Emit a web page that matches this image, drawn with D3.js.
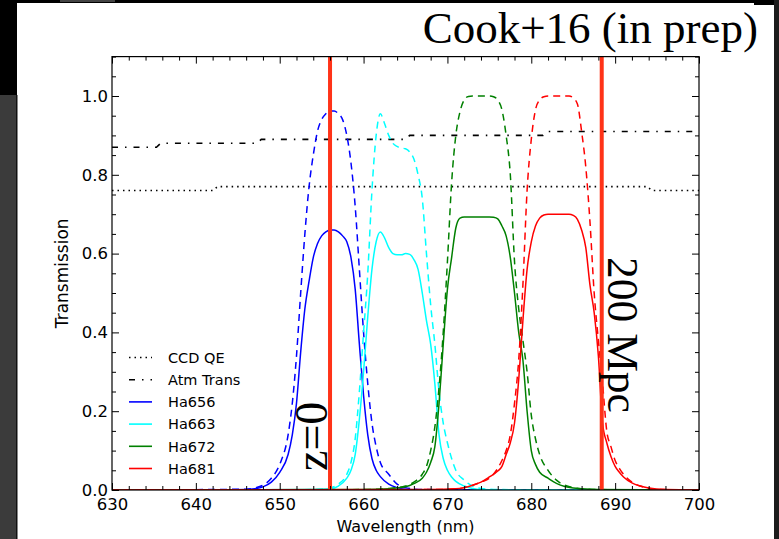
<!DOCTYPE html>
<html>
<head>
<meta charset="utf-8">
<script src="https://cdn.jsdelivr.net/npm/d3@7/dist/d3.min.js"></script>
<style>
  html, body { margin: 0; padding: 0; background: #ffffff; }
  svg { display: block; }
  text { font-family: "DejaVu Sans", sans-serif; fill: #000; }
</style>
</head>
<body>
<svg id="chart" width="779" height="539"></svg>
<script>
// ---------------- DATA ----------------
const xTicks = [630, 640, 650, 660, 670, 680, 690, 700];
const yTicks = [0.0, 0.2, 0.4, 0.6, 0.8, 1.0];

// CCD quantum efficiency (dotted)
const qeWave = [630, 642.0, 642.6, 693.8, 694.4, 700];
const qeVal  = [0.76, 0.76, 0.77, 0.77, 0.76, 0.76];

// Atmospheric transmission (dash-dot)
const atmWave = [630, 635.3, 635.8, 647.3, 647.8, 665.0, 665.5, 681.4, 681.9, 700];
const atmVal  = [0.87, 0.87, 0.88, 0.88, 0.89, 0.89, 0.90, 0.90, 0.91, 0.91];

// Ha656
const ha656Wave = [630, 646, 647, 648, 649, 650, 651, 651.5, 652, 652.5, 653, 653.5, 654, 654.5, 655, 655.5, 656, 656.5, 657, 657.5, 658, 658.5, 659, 659.5, 660, 660.5, 661, 661.5, 662, 663, 664, 665, 667, 700];
const ha656Filter = [0, 0.002, 0.005, 0.012, 0.03, 0.065, 0.14, 0.22, 0.34, 0.50, 0.65, 0.77, 0.85, 0.91, 0.94, 0.955, 0.962, 0.962, 0.955, 0.94, 0.90, 0.83, 0.72, 0.56, 0.40, 0.27, 0.17, 0.11, 0.07, 0.04, 0.015, 0.006, 0.001, 0];
const ha656Total  = [0, 0.001, 0.003, 0.008, 0.02, 0.045, 0.09, 0.14, 0.22, 0.35, 0.46, 0.53, 0.59, 0.625, 0.645, 0.655, 0.66, 0.66, 0.655, 0.645, 0.63, 0.59, 0.51, 0.37, 0.24, 0.14, 0.08, 0.05, 0.034, 0.015, 0.006, 0.002, 0, 0];

// Ha663
const ha663Wave = [630, 654, 656, 657, 658, 658.5, 659, 659.5, 660, 660.5, 661, 661.5, 662, 662.5, 663, 663.5, 664, 664.5, 665, 665.5, 666, 666.5, 667, 667.5, 668, 668.5, 669, 669.5, 670, 670.5, 671, 672, 673, 674, 676, 700];
const ha663Filter = [0, 0.001, 0.005, 0.015, 0.04, 0.07, 0.13, 0.25, 0.40, 0.55, 0.76, 0.90, 0.955, 0.93, 0.90, 0.88, 0.872, 0.868, 0.866, 0.858, 0.84, 0.80, 0.74, 0.60, 0.47, 0.37, 0.25, 0.17, 0.12, 0.08, 0.05, 0.025, 0.01, 0.004, 0.001, 0];
const ha663Total  = [0, 0.001, 0.003, 0.01, 0.03, 0.05, 0.09, 0.18, 0.30, 0.44, 0.56, 0.63, 0.655, 0.64, 0.615, 0.60, 0.597, 0.597, 0.60, 0.598, 0.585, 0.56, 0.50, 0.43, 0.37, 0.27, 0.14, 0.08, 0.05, 0.033, 0.022, 0.01, 0.004, 0.001, 0, 0];

// Ha672
const ha672Wave = [630, 660, 663, 665, 666, 667, 667.5, 668, 668.5, 669, 669.5, 670, 670.5, 671, 671.5, 672, 672.5, 673, 674, 675, 675.5, 676, 676.5, 677, 677.5, 678, 678.5, 679, 679.5, 680, 680.5, 681, 682, 683, 684, 685, 686, 688, 700];
const ha672Filter = [0, 0.001, 0.004, 0.01, 0.02, 0.04, 0.06, 0.10, 0.16, 0.26, 0.40, 0.58, 0.78, 0.90, 0.96, 0.99, 0.999, 1.0, 1.0, 1.0, 0.998, 0.99, 0.965, 0.90, 0.80, 0.58, 0.46, 0.38, 0.30, 0.19, 0.13, 0.09, 0.05, 0.025, 0.012, 0.006, 0.003, 0.001, 0];
const ha672Total  = [0, 0.001, 0.003, 0.008, 0.016, 0.03, 0.045, 0.07, 0.11, 0.22, 0.37, 0.51, 0.59, 0.665, 0.69, 0.693, 0.693, 0.693, 0.693, 0.693, 0.692, 0.688, 0.67, 0.645, 0.59, 0.50, 0.40, 0.33, 0.20, 0.10, 0.065, 0.045, 0.03, 0.017, 0.009, 0.005, 0.003, 0.001, 0];

// Ha681
const ha681Wave = [630, 668, 671, 672, 673, 674, 675, 676, 676.5, 677, 677.5, 678, 678.5, 679, 679.5, 680, 680.5, 681, 681.5, 682, 683, 684, 684.5, 685, 685.5, 686, 686.5, 687, 687.5, 688, 688.5, 689, 689.5, 690, 690.5, 691, 692, 693, 694, 696, 700];
const ha681Filter = [0, 0.001, 0.003, 0.006, 0.012, 0.02, 0.03, 0.055, 0.075, 0.10, 0.14, 0.22, 0.33, 0.52, 0.76, 0.89, 0.965, 0.99, 0.998, 1.0, 1.0, 1.0, 1.0, 0.995, 0.98, 0.91, 0.82, 0.68, 0.50, 0.38, 0.27, 0.15, 0.11, 0.075, 0.055, 0.04, 0.02, 0.01, 0.004, 0.001, 0];
const ha681Total  = [0, 0.001, 0.003, 0.006, 0.012, 0.02, 0.033, 0.048, 0.06, 0.09, 0.12, 0.17, 0.28, 0.43, 0.56, 0.63, 0.67, 0.69, 0.698, 0.70, 0.70, 0.70, 0.70, 0.697, 0.687, 0.66, 0.615, 0.52, 0.45, 0.34, 0.17, 0.12, 0.085, 0.06, 0.045, 0.033, 0.018, 0.01, 0.005, 0.001, 0];

// Redshift markers (wavelength of Halpha at z=0 and at 200 Mpc)
const markerWave = [656.0, 688.4];
const markerLabels = ["z=0", "200 Mpc"];

const legendLabels = ["CCD QE", "Atm Trans", "Ha656", "Ha663", "Ha672", "Ha681"];
const titleText = "Cook+16 (in prep)";

// ---------------- DRAW ----------------
const svg = d3.select("#chart");

// slide background / borders
svg.append("rect").attr("x", 0).attr("y", 0).attr("width", 779).attr("height", 539).attr("fill", "#ffffff");
svg.append("rect").attr("x", 0).attr("y", 0).attr("width", 17).attr("height", 95).attr("fill", "#000000");
svg.append("rect").attr("x", 0).attr("y", 95).attr("width", 17).attr("height", 444).attr("fill", "#3b3b3b");
svg.append("rect").attr("x", 16).attr("y", 95).attr("width", 1.5).attr("height", 444).attr("fill", "#111");
svg.append("rect").attr("x", 0).attr("y", 0).attr("width", 779).attr("height", 3).attr("fill", "#000000");
svg.append("rect").attr("x", 60).attr("y", 0).attr("width", 55).attr("height", 2).attr("fill", "#444");
svg.append("rect").attr("x", 754).attr("y", 0).attr("width", 25).attr("height", 5).attr("fill", "#000000");
svg.append("rect").attr("x", 774).attr("y", 0).attr("width", 5).attr("height", 539).attr("fill", "#1c1c1c");

const x = d3.scaleLinear().domain([630, 700]).range([112, 699]);
const y = d3.scaleLinear().domain([0, 1.1]).range([490, 56.6]);

const line = d3.line().x(d => x(d[0])).y(d => y(d[1]));
const smooth = d3.line().x(d => x(d[0])).y(d => y(d[1])).curve(d3.curveMonotoneX);
const zip = (a, b) => a.map((v, i) => [v, b[i]]);

const plot = svg.append("g");
plot.append("defs").append("clipPath").attr("id", "clip")
  .append("rect").attr("x", 112).attr("y", 56.6).attr("width", 587).attr("height", 433.4);
const g = plot.append("g").attr("clip-path", "url(#clip)");

const DOT = "1.5,4", DASHDOT = "6,7,1.5,7", DASH = "7,5";

g.append("path").datum(zip(qeWave, qeVal)).attr("d", line)
  .attr("fill", "none").attr("stroke", "#000").attr("stroke-width", 1.6).attr("stroke-dasharray", DOT);
g.append("path").datum(zip(atmWave, atmVal)).attr("d", line)
  .attr("fill", "none").attr("stroke", "#000").attr("stroke-width", 1.6).attr("stroke-dasharray", DASHDOT);

const filters = [
  { name: legendLabels[2], color: "#0000ff", wave: ha656Wave, filt: ha656Filter, tot: ha656Total },
  { name: legendLabels[3], color: "#00ffff", wave: ha663Wave, filt: ha663Filter, tot: ha663Total },
  { name: legendLabels[4], color: "#008000", wave: ha672Wave, filt: ha672Filter, tot: ha672Total },
  { name: legendLabels[5], color: "#ff0000", wave: ha681Wave, filt: ha681Filter, tot: ha681Total }
];

filters.forEach(f => {
  g.append("path").datum(zip(f.wave, f.tot)).attr("d", smooth)
    .attr("fill", "none").attr("stroke", f.color).attr("stroke-width", 1.5);
  g.append("path").datum(zip(f.wave, f.filt)).attr("d", smooth)
    .attr("fill", "none").attr("stroke", f.color).attr("stroke-width", 1.5).attr("stroke-dasharray", DASH);
});

// vertical marker lines
g.selectAll(".marker").data(markerWave).enter().append("line")
  .attr("x1", d => x(d)).attr("x2", d => x(d))
  .attr("y1", y(1.1)).attr("y2", y(0))
  .attr("stroke", "#ff3318").attr("stroke-width", 4);

// axes (inward ticks on all sides)
function styleAxis(sel) {
  sel.select(".domain").remove();
  sel.selectAll(".tick line").attr("stroke", "#000").attr("stroke-width", 1);
  sel.selectAll("text").attr("font-family", "DejaVu Sans, sans-serif").attr("font-size", "16.5px").attr("fill", "#000");
}
const xMinor = d3.range(630, 700.01, 2).filter(v => v % 10 !== 0);
const yMinor = d3.range(0, 1.101, 0.05).filter(v => Math.abs(v * 5 - Math.round(v * 5)) > 1e-6);

svg.append("g").attr("transform", `translate(0,${y(0)})`)
  .call(d3.axisBottom(x).tickValues(xTicks).tickFormat(d3.format("d")).tickSize(-7).tickPadding(8.5))
  .call(styleAxis);
svg.append("g").attr("transform", `translate(0,${y(0)})`)
  .call(d3.axisBottom(x).tickValues(xMinor).tickFormat("").tickSize(-4)).call(styleAxis);
svg.append("g").attr("transform", `translate(0,${y(1.1)})`)
  .call(d3.axisTop(x).tickValues(xTicks).tickFormat("").tickSize(-7)).call(styleAxis);
svg.append("g").attr("transform", `translate(0,${y(1.1)})`)
  .call(d3.axisTop(x).tickValues(xMinor).tickFormat("").tickSize(-4)).call(styleAxis);

svg.append("g").attr("transform", `translate(${x(630)},0)`)
  .call(d3.axisLeft(y).tickValues(yTicks).tickFormat(d3.format(".1f")).tickSize(-7).tickPadding(4))
  .call(styleAxis);
svg.append("g").attr("transform", `translate(${x(630)},0)`)
  .call(d3.axisLeft(y).tickValues(yMinor).tickFormat("").tickSize(-4)).call(styleAxis);
svg.append("g").attr("transform", `translate(${x(700)},0)`)
  .call(d3.axisRight(y).tickValues(yTicks).tickFormat("").tickSize(-7)).call(styleAxis);
svg.append("g").attr("transform", `translate(${x(700)},0)`)
  .call(d3.axisRight(y).tickValues(yMinor).tickFormat("").tickSize(-4)).call(styleAxis);

// frame
svg.append("rect").attr("x", x(630)).attr("y", y(1.1))
  .attr("width", x(700) - x(630)).attr("height", y(0) - y(1.1))
  .attr("fill", "none").attr("stroke", "#000").attr("stroke-width", 1.2);

// axis labels
svg.append("text").attr("x", (x(630) + x(700)) / 2).attr("y", 532)
  .attr("text-anchor", "middle").attr("font-size", "16px").text("Wavelength (nm)");
svg.append("text").attr("transform", `translate(68,${(y(0) + y(1.1)) / 2}) rotate(-90)`)
  .attr("text-anchor", "middle").attr("font-size", "17px").text("Transmission");

// title
svg.append("text").attr("x", 758).attr("y", 43).attr("text-anchor", "end")
  .attr("font-size", "45px")
  .style("font-family", "'Liberation Serif', 'Times New Roman', serif")
  .text(titleText);

// marker labels
svg.append("text")
  .attr("transform", `translate(${x(markerWave[0]) - 3},471) rotate(-90)`)
  .attr("text-anchor", "start").attr("font-size", "46px")
  .style("font-family", "'Liberation Serif', 'Times New Roman', serif")
  .text(markerLabels[0]);
svg.append("text")
  .attr("transform", `translate(${x(markerWave[1]) + 6},257) rotate(90)`)
  .attr("text-anchor", "start").attr("font-size", "43.5px")
  .style("font-family", "'Liberation Serif', 'Times New Roman', serif")
  .text(markerLabels[1]);

// legend
const legendItems = [
  { name: legendLabels[0], color: "#000", dash: DOT },
  { name: legendLabels[1], color: "#000", dash: DASHDOT },
  ...filters.map(f => ({ name: f.name, color: f.color, dash: null }))
];
const lg = svg.append("g");
legendItems.forEach((d, i) => {
  const yy = 357.5 + i * 22.2;
  const l = lg.append("line").attr("x1", 129).attr("x2", 152).attr("y1", yy).attr("y2", yy)
    .attr("stroke", d.color).attr("stroke-width", 1.6);
  if (d.dash) l.attr("stroke-dasharray", d.dash);
  lg.append("text").attr("x", 168).attr("y", yy).attr("dy", "0.36em")
    .attr("font-size", "14.5px").text(d.name);
});
</script>
</body>
</html>
